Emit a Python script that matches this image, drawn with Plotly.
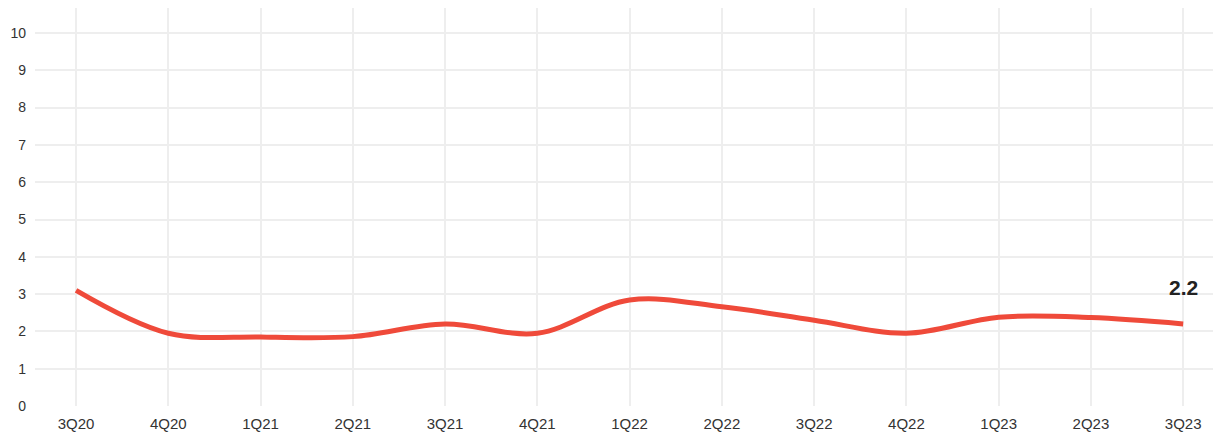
import plotly.graph_objects as go

quarters = ["3Q20", "4Q20", "1Q21", "2Q21", "3Q21", "4Q21", "1Q22", "2Q22",
            "3Q22", "4Q22", "1Q23", "2Q23", "3Q23"]
values = [3.1, 1.95, 1.85, 1.86, 2.2, 1.95, 2.84, 2.66, 2.3, 1.95, 2.38, 2.37, 2.2]
y_ticks = list(range(0, 11))

fig = go.Figure()
fig.add_trace(go.Scatter(
    x=list(range(len(quarters))), y=values, mode="lines",
    line=dict(color="#ef4a3a", width=5, shape="spline", smoothing=1),
    hoverinfo="skip", showlegend=False,
))
fig.add_annotation(
    x=len(quarters) - 1, y=values[-1], text="<b>%.1f</b>" % values[-1],
    showarrow=False, yshift=36, font=dict(size=21, color="#222222", family="Liberation Sans, Arial"),
)
# page body has an 8px margin; figure sized/offset to compensate
fig.update_layout(
    width=1213, height=427,
    margin=dict(l=27, r=0, t=0, b=29),
    paper_bgcolor="white", plot_bgcolor="white",
    font=dict(family="Liberation Sans, Arial", size=14, color="#333333"),
    xaxis=dict(
        tickmode="array", tickvals=list(range(len(quarters))), ticktext=quarters,
        range=[-0.445, 12.41], showgrid=True, gridcolor="#eeeeee", gridwidth=1.5,
        zeroline=False, showline=False, ticks="", automargin=False,
        tickfont=dict(size=15), ticklabelstandoff=7,
    ),
    yaxis=dict(
        tickmode="array", tickvals=y_ticks, range=[0, 10.67],
        showgrid=True, gridcolor="#eeeeee", gridwidth=1.5, zeroline=False,
        showline=False, ticks="", ticklabelstandoff=8, automargin=False,
        tickfont=dict(size=14),
    ),
)
fig.write_html("out.html")
